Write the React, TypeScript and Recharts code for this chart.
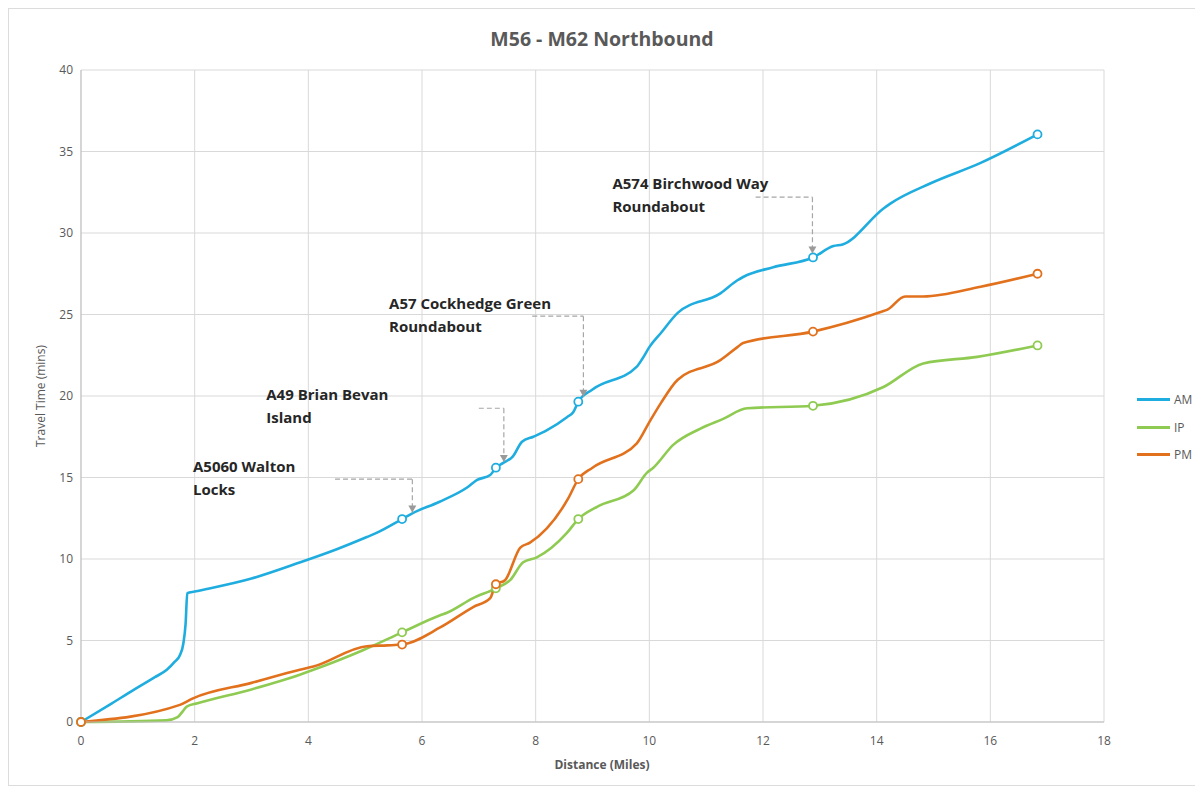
import React from "react";
import {
  LineChart,
  Line,
  XAxis,
  YAxis,
  CartesianGrid,
  ReferenceLine,
  ReferenceDot,
} from "recharts";

// ---- Data (distance in miles, travel time in minutes) ----
const amPoints: [number, number][] = [
  [0, 0], [0.5, 1.05], [0.92, 1.96], [1.3, 2.75], [1.51, 3.2], [1.65, 3.7], [1.74, 4.1],
  [1.8, 4.8], [1.84, 6.0], [1.87, 7.9], [2.0, 8.0], [3.0, 8.8], [3.86, 9.8], [4.5, 10.6],
  [5.03, 11.35], [5.2, 11.6], [5.65, 12.45], [5.83, 12.8], [6.3, 13.5], [6.8, 14.4],
  [6.97, 14.85], [7.2, 15.15], [7.3, 15.6], [7.43, 15.9], [7.6, 16.3], [7.76, 17.2],
  [7.96, 17.5], [8.2, 17.9], [8.55, 18.7], [8.66, 19.0], [8.75, 19.65], [9.0, 20.4],
  [9.78, 21.8], [9.88, 22.3], [10.0, 23.0], [10.2, 23.85], [10.5, 25.1], [11.25, 26.3],
  [11.55, 27.1], [11.65, 27.3], [12.18, 27.9], [12.88, 28.5], [13.24, 29.2], [13.4, 29.3],
  [14.12, 31.5], [14.24, 31.8], [14.95, 33.05], [15.83, 34.3], [16.83, 36.05],
];

const ipPoints: [number, number][] = [
  [0, 0], [1.5, 0.1], [1.7, 0.3], [1.8, 0.7], [1.86, 0.95], [2.05, 1.15], [3.0, 2.0],
  [3.85, 2.9], [4.09, 3.2], [4.96, 4.4], [5.65, 5.5], [6.32, 6.55], [6.44, 6.7], [6.9, 7.6],
  [7.3, 8.2], [7.55, 8.7], [7.78, 9.8], [8.02, 10.1], [8.55, 11.6], [8.75, 12.45],
  [9.08, 13.2], [9.72, 14.2], [9.96, 15.3], [10.07, 15.6], [10.42, 17.0], [10.9, 18.0],
  [11.3, 18.6], [11.72, 19.25], [12.88, 19.4], [14.12, 20.55], [14.82, 22.0], [15.77, 22.4],
  [16.83, 23.1],
];

const pmPoints: [number, number][] = [
  [0, 0], [1.74, 1.05], [1.97, 1.45], [3.0, 2.4], [3.85, 3.2], [4.09, 3.4], [5.03, 4.65],
  [5.39, 4.7], [5.65, 4.75], [6.32, 5.8], [6.9, 7.05], [7.2, 7.6], [7.3, 8.45], [7.46, 8.7],
  [7.73, 10.7], [7.9, 11.0], [8.57, 13.7], [8.75, 14.9], [9.0, 15.6], [9.78, 17.1],
  [10.0, 18.4], [10.2, 19.55], [10.5, 21.0], [11.25, 22.2], [11.55, 23.0], [11.65, 23.25],
  [12.88, 23.95], [14.07, 25.15], [14.19, 25.3], [14.5, 26.1], [14.82, 26.1], [15.83, 26.7],
  [16.83, 27.5],
];

const junctionDistances = [0, 5.65, 7.3, 8.75, 12.88, 16.83];

const xTicks = [0, 2, 4, 6, 8, 10, 12, 14, 16, 18];
const yTicks = [0, 5, 10, 15, 20, 25, 30, 35, 40];

const seriesNames = ["AM", "IP", "PM"];
const seriesColors = ["#1faddf", "#8fcb52", "#e2711d"];

type Annotation = {
  lines: string[];
  textAt: [number, number];
  leader: [number, number][]; // polyline in data coords, last point = arrow tip
};

const annotations: Annotation[] = [
  { lines: ["A5060 Walton", "Locks"], textAt: [1.97, 15.34], leader: [[4.47, 14.9], [5.83, 14.9], [5.83, 12.85]] },
  { lines: ["A49 Brian Bevan", "Island"], textAt: [3.26, 19.75], leader: [[7.0, 19.25], [7.44, 19.25], [7.44, 15.95]] },
  { lines: ["A57 Cockhedge Green", "Roundabout"], textAt: [5.42, 25.34], leader: [[7.94, 24.9], [8.84, 24.9], [8.84, 19.95]] },
  { lines: ["A574 Birchwood Way", "Roundabout"], textAt: [9.35, 32.7], leader: [[11.87, 32.2], [12.87, 32.2], [12.87, 28.75]] },
];

// ---- build series rows ----
const toRows = (pts: [number, number][]) =>
  pts.map(([d, t]) => ({
    d,
    t,
    marker: junctionDistances.some((j) => Math.abs(j - d) < 0.03),
  }));

const seriesData = [toRows(amPoints), toRows(ipPoints), toRows(pmPoints)];

const FONT = "'Open Sans', 'Liberation Sans', sans-serif";

const makeDot = (color: string, name: string) => (props: any) => {
  const { cx, cy, payload, index } = props;
  if (!payload || !payload.marker) return <g key={`${name}-d-${index}`} />;
  return (
    <circle
      key={`${name}-d-${index}`}
      cx={cx}
      cy={cy}
      r={4}
      fill="#fff"
      stroke={color}
      strokeWidth={1.8}
    />
  );
};

export default function App() {
  const W = 1188;
  const H = 778;
  return (
    <div
      style={{
        position: "relative",
        width: W,
        height: H,
        outline: "1px solid #dcdcdc",
        outlineOffset: -1,
        background: "#fff",
        fontFamily: FONT,
      }}
    >
      <LineChart
        width={W}
        height={H}
        margin={{ top: 62, right: 92, bottom: 34, left: 0 }}
      >
        <CartesianGrid stroke="#d9d9d9" strokeWidth={1} />
        <XAxis
          dataKey="d"
          type="number"
          domain={[0, 18]}
          ticks={xTicks}
          allowDuplicatedCategory={false}
          tickLine={false}
          axisLine={{ stroke: "#bfbfbf" }}
          tickMargin={8}
          height={30}
          tick={{ fill: "#595959", fontSize: 12, fontFamily: FONT }}
        />
        <YAxis
          type="number"
          domain={[0, 40]}
          ticks={yTicks}
          tickLine={false}
          axisLine={{ stroke: "#bfbfbf" }}
          width={73}
          tick={{ fill: "#595959", fontSize: 12, fontFamily: FONT }}
        />
        {seriesData.map((rows, i) => (
          <Line
            key={seriesNames[i]}
            data={rows}
            dataKey="t"
            name={seriesNames[i]}
            type="monotone"
            stroke={seriesColors[i]}
            strokeWidth={2.6}
            dot={makeDot(seriesColors[i], seriesNames[i])}
            activeDot={false}
            isAnimationActive={false}
          />
        ))}
        {annotations.map((a, ai) =>
          a.leader.slice(1).map((p, si) => (
            <ReferenceLine
              key={`lead-${ai}-${si}`}
              segment={[
                { x: a.leader[si][0], y: a.leader[si][1] },
                { x: p[0], y: p[1] },
              ]}
              stroke="#a6a6a6"
              strokeWidth={1.2}
              strokeDasharray="5 3"
            />
          ))
        )}
        {annotations.map((a, ai) => {
          const tip = a.leader[a.leader.length - 1];
          return (
            <ReferenceDot
              key={`tip-${ai}`}
              x={tip[0]}
              y={tip[1]}
              r={0}
              shape={(p: any) => (
                <path
                  d={`M${p.cx - 4},${p.cy - 7} L${p.cx + 4},${p.cy - 7} L${p.cx},${p.cy} Z`}
                  fill="#9a9a9a"
                />
              )}
            />
          );
        })}
        {annotations.map((a, ai) => (
          <ReferenceDot
            key={`txt-${ai}`}
            x={a.textAt[0]}
            y={a.textAt[1]}
            r={0}
            shape={(p: any) => (
              <text
                x={p.cx}
                y={p.cy}
                fontFamily={FONT}
                fontSize={15}
                fontWeight={700}
                fill="#262626"
              >
                {a.lines.map((ln, li) => (
                  <tspan key={li} x={p.cx} dy={li === 0 ? 0 : 23}>
                    {ln}
                  </tspan>
                ))}
              </text>
            )}
          />
        ))}
      </LineChart>

      {/* Title */}
      <div
        style={{
          position: "absolute",
          left: 0,
          width: W,
          top: 17,
          textAlign: "center",
          fontSize: 19.5,
          fontWeight: 700,
          color: "#595959",
        }}
      >
        M56 - M62 Northbound
      </div>

      {/* X axis title */}
      <div
        style={{
          position: "absolute",
          left: 0,
          width: W,
          top: 748,
          textAlign: "center",
          fontSize: 12,
          fontWeight: 700,
          color: "#595959",
        }}
      >
        Distance (Miles)
      </div>

      {/* Y axis title */}
      <div
        style={{
          position: "absolute",
          left: 32,
          top: 388,
          transform: "translate(-50%, -50%) rotate(-90deg)",
          whiteSpace: "nowrap",
          fontSize: 12,
          color: "#595959",
        }}
      >
        Travel Time (mins)
      </div>

      {/* Legend */}
      <div style={{ position: "absolute", left: 1129, top: 378 }}>
        {seriesNames.map((n, i) => (
          <div
            key={n}
            style={{ display: "flex", alignItems: "center", height: 27.5 }}
          >
            <div
              style={{
                width: 33,
                height: 3,
                background: seriesColors[i],
                marginRight: 4,
              }}
            />
            <span style={{ fontSize: 12, color: "#595959" }}>{n}</span>
          </div>
        ))}
      </div>
    </div>
  );
}
